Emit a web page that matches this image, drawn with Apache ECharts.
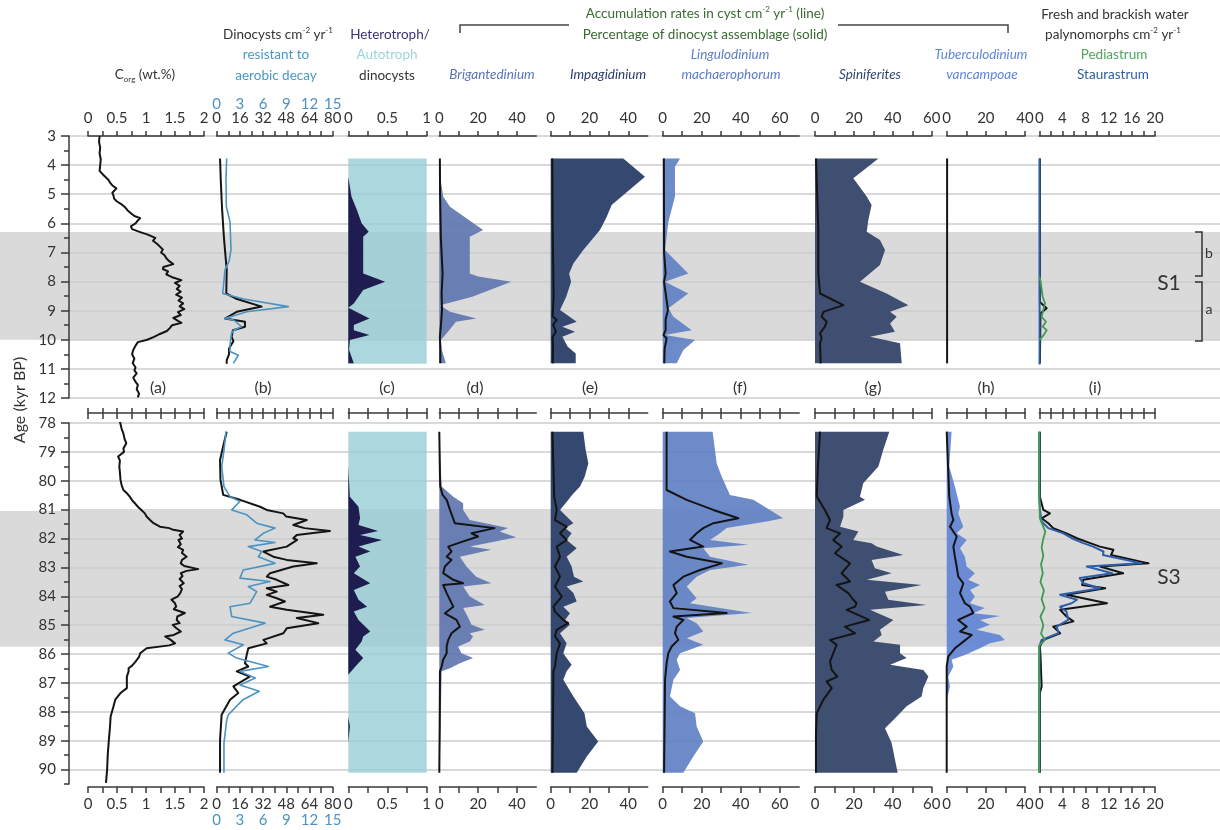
<!DOCTYPE html>
<html><head><meta charset="utf-8">
<script src="https://cdn.jsdelivr.net/npm/echarts@6/dist/echarts.min.js"></script>
<style>html,body{margin:0;padding:0;background:#fff}#chart{width:1220px;height:830px}</style>
</head><body><div id="chart"></div>
<script>
// ================= DATA: [age (kyr BP), value] =================
const bandTop = [6.3, 10.0];
const bandBot = [81.05, 85.75];
const ageTicksTop = [3,4,5,6,7,8,9,10,11,12];
const ageTicksBot = [78,79,80,81,82,83,84,85,86,87,88,89,90];
const ageMinorTop = [3.5,4.5,5.5,6.5,7.5,8.5,9.5,10.5,11.5];
const ageMinorBot = [78.5,79.5,80.5,81.5,82.5,83.5,84.5,85.5,86.5,87.5,88.5,89.5,90.5];

// (a) Corg wt.%
const top_corg = [[3.0,0.20],[3.2,0.19],[3.4,0.21],[3.6,0.20],[3.8,0.22],[4.0,0.21],[4.2,0.20],[4.35,0.27],[4.5,0.35],[4.6,0.38],[4.7,0.42],[4.8,0.49],[4.85,0.46],[4.95,0.42],[5.05,0.44],[5.15,0.45],[5.25,0.50],[5.35,0.58],[5.45,0.64],[5.55,0.68],[5.65,0.74],[5.75,0.80],[5.82,0.90],[5.9,0.86],[6.0,0.82],[6.1,0.74],[6.2,0.76],[6.3,0.90],[6.38,1.02],[6.45,1.10],[6.5,1.16],[6.6,1.12],[6.7,1.19],[6.8,1.24],[6.9,1.29],[7.0,1.26],[7.1,1.32],[7.2,1.35],[7.3,1.40],[7.4,1.47],[7.5,1.30],[7.57,1.29],[7.65,1.38],[7.75,1.35],[7.85,1.45],[7.95,1.61],[8.05,1.50],[8.15,1.58],[8.25,1.53],[8.35,1.60],[8.45,1.52],[8.55,1.62],[8.65,1.56],[8.75,1.64],[8.85,1.58],[8.95,1.66],[9.05,1.55],[9.15,1.60],[9.25,1.47],[9.35,1.55],[9.42,1.61],[9.5,1.45],[9.6,1.41],[9.7,1.36],[9.8,1.24],[9.9,1.14],[10.0,1.02],[10.08,0.86],[10.2,0.82],[10.35,0.78],[10.5,0.76],[10.65,0.80],[10.8,0.77],[10.95,0.82],[11.05,0.80],[11.15,0.84],[11.3,0.78],[11.45,0.82],[11.55,0.86],[11.7,0.84],[11.85,0.88],[11.98,0.86]];
const bot_corg = [[77.95,0.55],[78.2,0.58],[78.36,0.61],[78.55,0.63],[78.7,0.66],[78.88,0.61],[79.0,0.62],[79.16,0.52],[79.3,0.55],[79.51,0.54],[79.7,0.55],[79.97,0.56],[80.15,0.58],[80.32,0.61],[80.45,0.68],[80.55,0.72],[80.7,0.77],[80.78,0.81],[80.9,0.86],[81.01,0.92],[81.13,0.98],[81.24,1.01],[81.36,1.07],[81.47,1.13],[81.59,1.24],[81.64,1.40],[81.7,1.47],[81.76,1.64],[81.88,1.58],[82.0,1.62],[82.05,1.56],[82.2,1.60],[82.3,1.55],[82.39,1.64],[82.5,1.62],[82.63,1.70],[82.74,1.62],[82.86,1.60],[82.95,1.66],[83.06,1.90],[83.12,1.70],[83.2,1.60],[83.3,1.63],[83.4,1.58],[83.55,1.65],[83.65,1.58],[83.75,1.62],[83.89,1.59],[84.0,1.55],[84.12,1.44],[84.24,1.50],[84.36,1.52],[84.45,1.48],[84.58,1.67],[84.7,1.54],[84.82,1.53],[84.93,1.58],[84.99,1.46],[85.1,1.52],[85.22,1.60],[85.34,1.48],[85.39,1.33],[85.5,1.42],[85.63,1.50],[85.7,1.40],[85.8,1.01],[85.97,0.90],[86.1,0.88],[86.26,0.82],[86.4,0.76],[86.49,0.70],[86.6,0.70],[86.78,0.67],[87.0,0.67],[87.18,0.67],[87.35,0.56],[87.58,0.47],[87.81,0.44],[88.16,0.39],[88.5,0.38],[88.97,0.36],[89.5,0.34],[90.0,0.33],[90.46,0.31]];

// (b) total dinocysts (0-80) and resistant (0-15)
const top_dino = [[3.77,2.3],[4.5,2.8],[5.5,3.7],[6.5,5.0],[7.6,6.9],[8.41,6.6],[8.6,14],[8.86,31],[9.04,13.8],[9.27,5.7],[9.38,19.5],[9.55,19.5],[9.67,11.2],[9.9,10.3],[10.05,11.5],[10.3,8.5],[10.5,8.5],[10.7,6.9],[10.82,6.9]];
const top_resist = [[3.77,1.29],[4.5,1.2],[5.43,1.25],[5.95,1.72],[6.9,1.85],[7.3,1.6],[7.6,1.07],[8.41,0.78],[8.6,3.5],[8.86,9.26],[9.04,3.88],[9.27,1.07],[9.32,2.2],[9.55,3.2],[9.67,2.2],[9.8,1.9],[10.2,1.72],[10.4,1.72],[10.53,2.8],[10.81,2.15]];
const bot_dino = [[78.30,6.9],[78.8,4.5],[79.28,2.3],[79.97,2.6],[80.49,4.5],[80.66,16.1],[80.90,29.9],[81.01,34.5],[81.13,45.9],[81.24,48.0],[81.36,62.1],[81.53,52.8],[81.64,60.6],[81.74,78.1],[81.88,55.2],[81.99,52.8],[82.05,55.5],[82.28,48.3],[82.34,47.1],[82.45,32.2],[82.63,39.0],[82.74,48.3],[82.86,69.0],[82.97,52.8],[83.20,36.8],[83.32,34.5],[83.43,41.4],[83.61,49.4],[83.72,34.5],[83.84,41.4],[83.95,34.5],[84.07,41.4],[84.18,47.1],[84.36,36.8],[84.47,48.3],[84.64,73.5],[84.75,55.2],[84.93,70.1],[85.11,48.3],[85.28,46.0],[85.51,32.2],[85.63,34.5],[85.80,21.8],[86.03,20.7],[86.32,19.5],[86.43,21.8],[86.60,13.8],[86.78,22.8],[87.12,11.5],[87.35,14.9],[87.58,9.2],[88.10,3.4],[88.97,2.3],[90.11,2.3]];
const bot_resist = [[78.30,1.2],[78.93,0.95],[79.51,0.65],[80.20,0.94],[80.55,1.72],[80.72,3.0],[81.01,1.94],[81.18,3.88],[81.47,5.17],[81.64,7.54],[81.82,6.03],[82.05,4.95],[82.14,7.54],[82.28,4.09],[82.45,5.82],[82.63,5.38],[82.86,7.54],[83.09,3.44],[83.37,3.0],[83.49,6.89],[83.66,4.09],[83.84,5.17],[84.24,4.31],[84.36,1.72],[84.70,1.94],[84.93,6.25],[85.28,2.15],[85.51,1.07],[85.68,3.44],[85.97,1.5],[86.14,2.59],[86.43,6.68],[86.60,3.0],[86.83,5.0],[87.07,3.0],[87.29,5.5],[87.58,3.4],[88.10,1.5],[88.28,1.3],[89.08,0.94],[90.11,0.94]];

// (c) heterotroph / autotroph ratio
const top_auto = [[3.77,1],[10.82,1]];
const top_hetero = [[3.77,0],[4.4,0],[5.08,0.04],[5.54,0.11],[6.0,0.17],[6.29,0.26],[6.46,0.19],[6.69,0.19],[7.72,0.19],[8.01,0.47],[8.29,0.19],[8.75,0.07],[8.9,0.0],[9.27,0.27],[9.49,0.07],[9.67,0.07],[9.84,0.27],[10.01,0.02],[10.35,0.01],[10.81,0.07]];
const bot_auto = [[78.30,1],[90.11,1]];
const bot_hetero = [[78.30,0],[79.51,0.0],[80.55,0.02],[80.90,0.13],[81.30,0.15],[81.53,0.13],[81.74,0.38],[81.88,0.15],[82.05,0.43],[82.28,0.13],[82.45,0.28],[82.63,0.09],[82.97,0.15],[83.20,0.07],[83.55,0.28],[83.78,0.07],[84.12,0.13],[84.36,0.24],[84.53,0.07],[84.82,0.13],[85.22,0.28],[85.39,0.19],[85.57,0.17],[85.85,0.09],[86.14,0.19],[86.43,0.09],[86.72,0.0],[88.16,0.0],[88.51,0.02],[89.08,0.0],[90.11,0.0]];

// (d) Brigantedinium: percentage (solid) and accumulation rate (line)
const top_brig_pct = [[3.77,0],[4.51,0.7],[5.08,2],[5.43,5.5],[6.23,22.6],[6.46,15.7],[6.80,15.7],[7.72,15.7],[7.83,20],[8.01,37.1],[8.52,17],[8.81,0.4],[9.04,5.5],[9.27,19.1],[9.38,8.6],[9.67,5.1],[10.01,0.8],[10.35,1.3],[10.81,3.4]];
const top_brig_ar = [[3.77,0.3],[5.0,0.4],[6.5,0.8],[7.72,1.7],[8.4,1.2],[8.98,1.4],[9.44,0.9],[9.9,0.3],[10.3,0.5],[10.81,0.5]];
const bot_brig_pct = [[78.30,0.0],[79.51,0.7],[80.20,1.2],[80.55,7.2],[80.78,12.3],[81.01,12.3],[81.36,15.7],[81.64,35.4],[81.76,31.1],[81.96,39.6],[82.16,24.3],[82.28,15.7],[82.39,26.8],[82.63,10.6],[82.97,14.0],[83.32,19.0],[83.55,26.8],[83.66,12.3],[84.01,15.7],[84.30,23.4],[84.41,12.3],[84.47,13.0],[84.75,15.0],[84.99,16.6],[85.16,23.4],[85.28,15.7],[85.39,17.4],[85.57,15.7],[85.74,9.7],[85.97,11.4],[86.14,17.4],[86.32,10.6],[86.49,5.5],[86.60,1.2],[88.51,0.7],[90.11,0.0]];
const bot_brig_ar = [[78.30,0.0],[79.86,0.35],[80.20,0.5],[80.49,1.7],[80.66,3.8],[81.01,5.5],[81.47,8.0],[81.64,28.5],[81.82,16.6],[81.93,20.0],[82.16,9.7],[82.28,4.6],[82.45,6.3],[82.63,3.8],[82.74,6.3],[82.97,2.9],[83.20,2.0],[83.43,7.2],[83.55,12.3],[83.61,2.0],[83.89,3.8],[84.36,7.2],[84.59,2.9],[84.82,8.9],[85.05,10.6],[85.28,6.3],[85.51,4.6],[85.74,3.8],[85.97,3.8],[86.20,2.0],[86.43,1.2],[86.60,0.35],[88.5,0.2],[90.11,0.0]];

// (e) Impagidinium
const top_impa_pct = [[3.77,37.4],[4.40,48.6],[5.37,31.4],[5.77,28.9],[6.23,25.4],[6.92,16.8],[7.38,11.7],[7.72,9.5],[8.01,10.5],[8.52,8],[8.98,4.8],[9.38,13.4],[9.55,6],[9.72,12.5],[9.90,6],[10.24,8.8],[10.47,12.9],[10.81,12.9]];
const top_impa_ar = [[3.77,0.8],[6,1.0],[8.5,1.5],[9.2,1.0],[9.32,3.1],[9.49,1.2],[9.72,2.7],[9.9,1.0],[10.3,1.2],[10.81,1.0]];
const bot_impa_pct = [[78.30,16.8],[78.93,18.0],[79.40,19.4],[79.86,17.5],[80.20,15.1],[80.49,11.0],[80.66,9.1],[81.01,4.8],[81.47,11.7],[81.64,7.4],[81.82,10.8],[82.05,8.2],[82.34,13.4],[82.63,8.2],[82.97,10.8],[83.32,12.0],[83.49,16.8],[83.66,8.2],[83.89,11.7],[84.18,13.4],[84.36,6.5],[84.59,9.9],[84.82,7.4],[84.99,9.9],[85.28,4.8],[85.63,8.2],[85.97,6.5],[86.14,8.2],[86.37,10.8],[86.60,8.2],[86.89,6.5],[87.47,11.7],[88.05,17.4],[88.51,18.6],[89.03,24.5],[89.55,18.6],[90.11,13.4]];
const bot_impa_ar = [[78.30,0.9],[80.55,1.8],[81.01,3.1],[81.36,2.2],[81.59,8.2],[81.82,4.8],[82.05,8.2],[82.28,3.1],[82.63,4.8],[82.97,2.2],[83.32,4.8],[83.66,2.2],[84.01,5.7],[84.36,1.4],[84.53,2.2],[84.82,6.5],[84.93,9.0],[85.16,3.1],[85.39,2.2],[85.63,4.8],[85.97,3.1],[86.43,2.2],[86.60,1.4],[90.11,0.9]];

// (f) Lingulodinium machaerophorum
const top_ling_pct = [[3.77,8.9],[4.06,6.3],[5.08,6.3],[5.95,2.9],[6.92,1.2],[7.72,13.1],[8.01,1.2],[8.41,13.1],[8.92,2.9],[9.21,5.5],[9.67,14.9],[9.84,1.2],[10.01,16.6],[10.35,10.6],[10.81,7.2]];
const top_ling_ar = [[3.77,0.6],[7.0,0.7],[7.72,1.5],[8.01,0.7],[8.98,2.7],[9.3,1.5],[9.67,1.5],[9.84,0.4],[9.95,2.0],[10.3,1.0],[10.81,0.8]];
const bot_ling_pct = [[78.30,25.6],[79.40,27.7],[79.86,30.3],[80.49,34.5],[80.66,46.5],[81.01,55.0],[81.30,61.8],[81.41,53.3],[81.64,32.8],[81.82,29.4],[82.05,24.3],[82.22,43.9],[82.34,20.8],[82.63,24.3],[82.91,43.9],[83.09,24.3],[83.32,17.4],[83.66,12.3],[84.07,17.4],[84.24,14.0],[84.58,45.6],[84.75,12.3],[84.93,17.4],[85.22,20.8],[85.45,12.3],[85.68,20.8],[85.97,8.9],[86.20,7.2],[86.55,8.9],[86.89,5.5],[87.47,3.7],[87.81,8.9],[88.05,16.6],[88.51,17.4],[89.03,20.8],[89.55,15.7],[90.11,10.6]];
const bot_ling_ar = [[78.30,2.0],[80.32,2.0],[80.66,12.3],[81.01,26.0],[81.30,38.8],[81.47,26.0],[81.64,20.8],[81.82,17.4],[82.05,14.0],[82.28,20.8],[82.45,3.7],[82.63,12.3],[82.86,30.3],[83.09,19.1],[83.32,10.6],[83.61,5.5],[83.89,7.2],[84.18,3.7],[84.41,5.5],[84.58,32.8],[84.70,5.5],[84.82,10.6],[85.05,7.2],[85.28,6.3],[85.51,8.0],[85.74,4.6],[85.97,2.9],[86.32,2.0],[86.89,1.2],[90.11,0.7]];

// (g) Spiniferites
const top_spin_pct = [[3.77,32.6],[4.45,19.7],[5.08,26.6],[5.37,29.1],[5.89,27.4],[6.29,26.6],[6.57,33.4],[6.92,36.0],[7.43,33.4],[8.01,23.1],[8.41,36.8],[8.81,48.0],[9.04,38.6],[9.21,42.0],[9.44,38.6],[9.72,41.1],[9.90,28.3],[10.12,43.7],[10.81,44.6]];
const top_spin_ar = [[3.77,0.5],[6.2,1.7],[7.72,1.7],[8.41,2.6],[8.81,14.6],[9.04,4.3],[9.21,3.4],[9.38,6.0],[9.55,5.1],[9.78,2.6],[9.95,3.4],[10.12,2.6],[10.81,2.9]];
const bot_spin_pct = [[78.30,38.2],[78.93,35.1],[79.51,32.6],[80.09,24.8],[80.55,23.1],[80.66,25.7],[81.01,14.6],[81.24,14.6],[81.59,12.9],[81.76,22.3],[82.05,19.7],[82.16,29.1],[82.28,31.7],[82.57,45.4],[82.74,29.1],[83.03,30.8],[83.20,39.4],[83.43,26.6],[83.61,54.8],[83.84,36.0],[84.12,37.7],[84.30,57.4],[84.47,28.3],[84.82,40.3],[85.16,33.4],[85.34,34.3],[85.57,30.0],[85.68,43.7],[85.97,43.7],[86.14,47.1],[86.37,38.6],[86.55,55.7],[86.78,58.3],[87.18,55.7],[87.47,54.8],[87.81,47.1],[88.28,40.3],[88.57,36.0],[89.08,39.4],[90.11,42.5]];
const bot_spin_ar = [[78.30,2.6],[79.5,1.5],[80.55,0.9],[81.01,5.1],[81.36,7.7],[81.64,6.0],[81.82,12.9],[82.05,9.4],[82.28,13.7],[82.51,10.3],[82.86,18.0],[83.20,13.7],[83.49,18.0],[83.61,11.1],[83.89,17.1],[84.12,19.7],[84.24,21.4],[84.36,20.6],[84.47,16.3],[84.82,27.8],[85.05,15.4],[85.28,20.6],[85.51,7.7],[85.68,11.1],[85.97,9.4],[86.26,7.7],[86.55,8.6],[86.78,11.5],[86.95,6.0],[87.18,8.6],[87.58,4.3],[88.05,0.9],[88.74,0.5],[90.11,0.5]];

// (h) Tuberculodinium vancampoae
const top_tube_pct = [[3.77,0],[10.81,0]];
const top_tube_ar = [[3.77,0.2],[10.81,0.2]];
const bot_tube_pct = [[78.30,2.5],[79.51,1.3],[80.20,4.2],[80.90,6.8],[81.13,5.9],[81.59,8.5],[81.82,5.1],[82.05,10.2],[82.34,6.8],[82.63,9.3],[82.97,10.2],[83.20,14.4],[83.43,11.0],[83.61,17.0],[83.78,11.9],[84.01,14.4],[84.24,11.9],[84.41,19.5],[84.59,13.6],[84.68,27.2],[84.82,17.0],[84.99,22.1],[85.16,15.3],[85.34,27.2],[85.51,29.7],[85.63,22.1],[85.80,17.0],[86.03,9.3],[86.20,2.5],[86.43,3.4],[86.78,0.8],[87.12,1.7],[87.58,0.0],[90.11,0.0]];
const bot_tube_ar = [[78.30,0.0],[80.55,1.3],[81.13,2.5],[81.36,3.4],[81.59,1.7],[81.93,5.1],[82.28,3.4],[82.63,4.2],[82.97,5.1],[83.32,5.9],[83.55,8.5],[83.89,6.8],[84.24,9.3],[84.36,11.9],[84.58,13.6],[84.82,5.9],[85.05,10.2],[85.22,6.8],[85.34,12.8],[85.57,8.5],[85.80,4.2],[86.08,0.8],[86.43,0.0],[90.11,0.0]];

// (i) fresh/brackish palynomorphs: total (black), Pediastrum (green), Staurastrum (blue)
const top_paly = [[3.77,0.1],[8.7,0.1],[8.92,1.27],[9.1,0.2],[10.81,0.1]];
const top_stau = [[3.77,0.05],[10.85,0.05]];
const top_pedi = [[7.83,0.0],[8.0,0.23],[8.52,0.58],[8.75,0.98],[9.21,0.4],[9.38,1.15],[9.55,0.58],[9.67,1.27],[9.84,0.75],[10.01,0.0]];
const bot_paly = [[78.30,0.1],[80.55,0.1],[81.01,0.7],[81.13,1.85],[81.30,0.4],[81.47,1.56],[81.64,2.4],[81.82,4.7],[81.99,6.5],[82.16,8.8],[82.28,10.5],[82.39,12.8],[82.57,12.4],[82.86,18.9],[82.97,10.5],[83.20,14.5],[83.43,7.6],[83.61,7.4],[83.72,11.4],[83.95,4.7],[84.24,11.7],[84.47,3.6],[84.70,4.7],[84.87,5.9],[85.05,2.4],[85.28,3.6],[85.51,0.7],[85.74,0.1],[86.03,0.2],[87.12,0.4],[87.35,0.1],[90.11,0.1]];
const bot_stau = [[78.30,0.0],[80.55,0.0],[81.01,0.1],[81.41,0.4],[81.64,1.56],[81.82,4.15],[81.99,5.6],[82.16,7.6],[82.28,9.3],[82.45,11.1],[82.57,11.0],[82.86,17.7],[82.97,8.2],[83.20,12.6],[83.37,7.0],[83.55,7.6],[83.72,10.5],[83.95,3.6],[84.12,6.5],[84.24,5.6],[84.36,3.6],[84.53,4.7],[84.82,5.0],[85.05,3.0],[85.28,3.3],[85.51,0.4],[85.74,0.0],[90.11,0.0]];
const bot_pedi = [[78.30,0.0],[80.55,0.0],[81.30,0.1],[81.76,1.04],[82.0,0.7],[82.3,0.4],[82.6,0.7],[82.9,0.3],[83.2,0.6],[83.5,0.2],[83.8,0.8],[84.1,0.4],[84.4,0.9],[84.7,0.2],[85.0,0.7],[85.3,0.3],[85.51,1.0],[85.7,0.0],[90.11,0.0]];

// axis ticks / labels per column
const ticks_a = [0,0.25,0.5,0.75,1,1.25,1.5,1.75,2];   const labels_a = [0,0.5,1,1.5,2];
const ticks_b = [0,8,16,24,32,40,48,56,64,72,80];        const labels_b = [0,16,32,48,64,80];
const labels_b_blue = [0,3,6,9,12,15];
const ticks_c = [0,0.25,0.5,0.75,1];                      const labels_c = [0,0.5,1];
const ticks_d = [0,10,20,30,40];                          const labels_d = [0,20,40];
const ticks_f = [0,10,20,30,40,50,60];                    const labels_f = [0,20,40,60];
const ticks_h = [0,10,20,30,40];                          const labels_h = [0,20,40];
const ticks_i = [0,2,4,6,8,10,12,14,16,18,20];            const labels_i = [0,4,8,12,16,20];

// ================= LAYOUT / STYLE =================
const FONT = "Lato, 'Open Sans', sans-serif";
const AX = '#3a3a3a';
const TXT = '#333333';
const PANELS = {
  top: {top:136, height:262, min:3, max:12, band:bandTop, ticks:ageTicksTop, minor:ageMinorTop},
  bot: {top:423, height:361, min:78, max:90.5, band:bandBot, ticks:ageTicksBot, minor:ageMinorBot}
};
const COLS = [
  {left:88,    width:116,   max:2,  ticks:ticks_a, labels:labels_a},
  {left:216.7, width:116,   max:80, ticks:ticks_b, labels:labels_b, blue:true},
  {left:348.3, width:78.4,  max:1,  ticks:ticks_c, labels:labels_c},
  {left:439.3, width:97,    max:50, ticks:ticks_d, labels:labels_d},
  {left:550.7, width:97,    max:50, ticks:ticks_d, labels:labels_d},
  {left:662.7, width:136.5, max:70, ticks:ticks_f, labels:labels_f},
  {left:815,   width:116.7, max:60, ticks:ticks_f, labels:labels_f},
  {left:946.7, width:78.3,  max:40, ticks:ticks_h, labels:labels_h},
  {left:1039.3,width:115.7, max:20, ticks:ticks_i, labels:labels_i}
];
const BLACK = '#141414';
const SER = [
  [{top:top_corg, bot:bot_corg, color:BLACK, width:2}],
  [{top:top_dino, bot:bot_dino, color:BLACK, width:2}, {top:top_resist, bot:bot_resist, color:'#4b93c3', width:1.6, blueAxis:true}],
  [{top:top_auto, bot:bot_auto, area:'rgba(150,205,212,0.8)'}, {top:top_hetero, bot:bot_hetero, area:'#1f1c4f'}],
  [{top:top_brig_pct, bot:bot_brig_pct, area:'rgba(96,118,176,0.92)'}, {top:top_brig_ar, bot:bot_brig_ar, color:BLACK, width:2}],
  [{top:top_impa_pct, bot:bot_impa_pct, area:'#35486f'}, {top:top_impa_ar, bot:bot_impa_ar, color:BLACK, width:2}],
  [{top:top_ling_pct, bot:bot_ling_pct, area:'rgba(98,129,196,0.92)'}, {top:top_ling_ar, bot:bot_ling_ar, color:BLACK, width:2}],
  [{top:top_spin_pct, bot:bot_spin_pct, area:'#3e4f71'}, {top:top_spin_ar, bot:bot_spin_ar, color:BLACK, width:2}],
  [{top:top_tube_pct, bot:bot_tube_pct, area:'rgba(98,134,212,0.92)'}, {top:top_tube_ar, bot:bot_tube_ar, color:BLACK, width:2}],
  [{top:top_paly, bot:bot_paly, color:BLACK, width:2}, {top:top_stau, bot:bot_stau, color:'#2f5ea6', width:2}, {top:top_pedi, bot:bot_pedi, color:'#3f9a4f', width:1.8}]
];

const grids = [], xAxes = [], yAxes = [], series = [];
const addGrid = g => { grids.push(Object.assign({outerBoundsMode:'none', containLabel:false, show:false}, g)); return grids.length - 1; };
const addX = a => { xAxes.push(a); return xAxes.length - 1; };
const addY = a => { yAxes.push(a); return yAxes.length - 1; };
const lineSt = {color:AX, width:1.5};

function colXAxis(gi, c, opts) {
  return Object.assign({
    gridIndex:gi, type:'value', min:0, max:c.max, z:3,
    axisLine:{show:true, onZero:false, lineStyle:lineSt},
    axisTick:{show:true, inside:false, length:5, customValues:c.ticks, lineStyle:lineSt},
    axisLabel:{show:true, customValues:c.labels, color:TXT, fontSize:15, fontFamily:FONT, margin:10},
    splitLine:{show:false}
  }, opts);
}

['top','bot'].forEach(pk => {
  const P = PANELS[pk];
  // background band across full width
  const gb = addGrid({left:0, right:0, top:P.top, height:P.height});
  const xb = addX({gridIndex:gb, type:'value', min:0, max:1, show:false});
  const yb = addY({gridIndex:gb, type:'value', min:P.min, max:P.max, inverse:true, show:false});
  series.push({type:'line', xAxisIndex:xb, yAxisIndex:yb, data:[[0, P.min]], symbol:'none', lineStyle:{width:0}, silent:true, z:0,
    markArea:{silent:true, z:0, itemStyle:{color:'#dadada'}, data:[[{yAxis:P.band[0]}, {yAxis:P.band[1]}]]}});
  // age axis with grid lines
  const ga = addGrid({left:69, right:0, top:P.top, height:P.height});
  addX({gridIndex:ga, type:'value', min:0, max:1, show:false});
  addY({gridIndex:ga, type:'value', min:P.min, max:P.max, interval:1, inverse:true, position:'left', z:3,
    axisLine:{show:true, onZero:false, lineStyle:lineSt},
    axisTick:{show:true, inside:false, length:8, customValues:P.ticks, lineStyle:lineSt},
    axisLabel:{show:true, customValues:P.ticks, color:TXT, fontSize:15, fontFamily:FONT, margin:13},
    splitLine:{show:true, lineStyle:{color:'#cdcdcd', width:1.5}}});
  addY({gridIndex:ga, type:'value', min:P.min, max:P.max, inverse:true, position:'left', z:3,
    axisLine:{show:false}, axisTick:{show:true, inside:false, length:5, customValues:P.minor, lineStyle:lineSt},
    axisLabel:{show:false}, splitLine:{show:false}});

  COLS.forEach((c, ci) => {
    const gc = addGrid({left:c.left, width:c.width, top:P.top, height:P.height});
    const yc = addY({gridIndex:gc, type:'time', min:P.min*1000, max:P.max*1000, inverse:true, show:false});
    let xMain, xBlue = null;
    if (pk === 'top') {
      xMain = addX(colXAxis(gc, c, {position:'top'}));
      if (c.blue) xBlue = addX({gridIndex:gc, type:'value', min:0, max:15, position:'top', offset:14, z:3,
        axisLine:{show:false, onZero:false}, axisTick:{show:false},
        axisLabel:{show:true, customValues:labels_b_blue, color:'#4b93c3', fontSize:15, fontFamily:FONT, margin:10}, splitLine:{show:false}});
    } else {
      addX(colXAxis(gc, c, {position:'top', offset:10, axisLabel:{show:false}}));
      addX(colXAxis(gc, c, {position:'top', offset:10, axisLine:{show:false, onZero:false},
        axisTick:{show:true, inside:true, length:6, customValues:c.ticks, lineStyle:lineSt}, axisLabel:{show:false}}));
      xMain = addX(colXAxis(gc, c, {position:'bottom', offset:3,
        axisTick:{show:true, inside:false, length:6, customValues:c.ticks, lineStyle:lineSt}}));
      if (c.blue) xBlue = addX({gridIndex:gc, type:'value', min:0, max:15, position:'bottom', offset:20, z:3,
        axisLine:{show:false, onZero:false}, axisTick:{show:false},
        axisLabel:{show:true, customValues:labels_b_blue, color:'#4b93c3', fontSize:15, fontFamily:FONT, margin:9}, splitLine:{show:false}});
    }
    SER[ci].forEach((s, si) => {
      const pairs = s[pk];
      const ser = {type:'line', xAxisIndex:(s.blueAxis ? xBlue : xMain), yAxisIndex:yc,
        data:pairs.map(p => [p[1], p[0]*1000]), symbol:'none', showSymbol:false, silent:true,
        z:5 + si, clip:true, animation:false};
      if (s.area) { ser.lineStyle = {width:0}; ser.areaStyle = {color:s.area, opacity:1}; }
      else { ser.lineStyle = {color:s.color, width:s.width, join:'round'}; }
      series.push(ser);
    });
  });
});

// ================= TEXT =================
const rich = {
  sup:{fontSize:8, verticalAlign:'top', lineHeight:9, fontFamily:FONT},
  sub:{fontSize:8, verticalAlign:'bottom', lineHeight:9, fontFamily:FONT}
};
function T(x, y, text, fill, o) {
  o = o || {};
  return {type:'text', x:x, y:y, silent:true, z:10, rotation:o.rot || 0, scaleX:o.sx || 1,
    style:{text:text, fill:fill || TXT, fontSize:o.fs || 13.5, fontFamily:FONT, fontStyle:o.it ? 'italic' : 'normal',
      align:'center', verticalAlign:'middle', textAlign:'center', textVerticalAlign:'middle', lineHeight:o.lh || 17, rich:rich}};
}
const GREEN = '#3a6a33';
const graphics = [
  T(145, 75, 'C{sub|org} (wt.%)', TXT),
  T(278, 35, 'Dinocysts cm{sup|-2} yr{sup|-1}', TXT),
  T(276, 55, 'resistant to', '#4b97c5'),
  T(276, 76, 'aerobic decay', '#4b97c5'),
  T(390, 35, 'Heterotroph/', '#3c3079'),
  T(387, 55, 'Autotroph', '#9fd3da'),
  T(387, 76, 'dinocysts', TXT),
  T(705, 14, 'Accumulation rates in cyst cm{sup|-2} yr{sup|-1} (line)', GREEN),
  T(705, 35, 'Percentage of dinocyst assemblage (solid)', GREEN),
  T(492, 75, 'Brigantedinium', '#5a74b4', {it:true}),
  T(608, 75, 'Impagidinium', '#2b3b6b', {it:true}),
  T(730, 55, 'Lingulodinium', '#5b7cc6', {it:true}),
  T(731, 75, 'machaerophorum', '#5b7cc6', {it:true}),
  T(870, 75, 'Spiniferites', '#34466f', {it:true}),
  T(981, 55, 'Tuberculodinium', '#5f85d8', {it:true}),
  T(982, 75, 'vancampoae', '#5f85d8', {it:true}),
  T(1115, 15, 'Fresh and brackish water', TXT),
  T(1113, 35, 'palynomorphs cm{sup|-2} yr{sup|-1}', TXT),
  T(1114, 55, 'Pediastrum', '#4ea55a'),
  T(1113, 75, 'Staurastrum', '#2f5d9e'),
  T(20, 400, 'Age (kyr BP)', TXT, {rot:Math.PI/2, fs:16}),
  T(1169, 283, 'S1', TXT, {fs:21}),
  T(1169, 577, 'S3', TXT, {fs:21}),
  T(1209, 253, 'b', TXT, {fs:14}),
  T(1209, 309, 'a', TXT, {fs:14}),
  {type:'polyline', silent:true, z:10, shape:{points:[[460,33],[460,25],[569,25]]}, style:{stroke:'#444', lineWidth:1.5, fill:null}},
  {type:'polyline', silent:true, z:10, shape:{points:[[838,25],[1008,25],[1008,33]]}, style:{stroke:'#444', lineWidth:1.5, fill:null}},
  {type:'polyline', silent:true, z:10, shape:{points:[[1195,232],[1202,232],[1202,276],[1195,276]]}, style:{stroke:'#333', lineWidth:1.5, fill:null}},
  {type:'polyline', silent:true, z:10, shape:{points:[[1195,282],[1202,282],[1202,341],[1195,341]]}, style:{stroke:'#333', lineWidth:1.5, fill:null}}
];
['(a)','(b)','(c)','(d)','(e)','(f)','(g)','(h)','(i)'].forEach((l, i) => {
  const xs = [158,263,387,475,590,740,873,986,1095];
  graphics.push(T(xs[i], 388, l, TXT, {fs:16}));
});

const chart = echarts.init(document.getElementById('chart'), null, {renderer:'canvas'});
chart.setOption({
  animation:false,
  backgroundColor:'#ffffff',
  textStyle:{fontFamily:FONT},
  grid:grids, xAxis:xAxes, yAxis:yAxes, series:series,
  graphic:{elements:graphics}
});
</script></body></html>
